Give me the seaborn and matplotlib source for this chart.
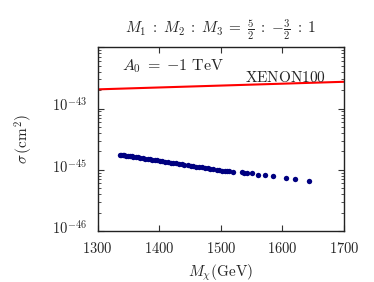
import matplotlib
matplotlib.use("Agg")
import matplotlib.pyplot as plt
import matplotlib.transforms as mtransforms
import seaborn as sns
import pandas as pd
import numpy as np

# data
mass = [1336, 1338, 1341, 1343, 1346, 1349, 1352, 1355, 1358, 1362, 1366, 1369,
        1373, 1377, 1381, 1385, 1389, 1393, 1397, 1401, 1405, 1410, 1414, 1419,
        1423, 1428, 1432, 1437, 1441, 1446, 1451, 1455, 1460, 1465, 1470, 1474,
        1479, 1483, 1488, 1493, 1497, 1502, 1506, 1510, 1514, 1519,
        1534, 1538, 1542, 1550, 1560, 1571, 1584, 1605, 1620, 1643]
sigma = [1.76e-45, 1.75e-45, 1.73e-45, 1.72e-45, 1.70e-45, 1.68e-45, 1.67e-45,
         1.65e-45, 1.63e-45, 1.61e-45, 1.59e-45, 1.57e-45, 1.54e-45, 1.52e-45,
         1.50e-45, 1.48e-45, 1.46e-45, 1.44e-45, 1.42e-45, 1.40e-45, 1.38e-45,
         1.36e-45, 1.34e-45, 1.31e-45, 1.29e-45, 1.27e-45, 1.25e-45, 1.23e-45,
         1.21e-45, 1.19e-45, 1.17e-45, 1.15e-45, 1.13e-45, 1.11e-45, 1.09e-45,
         1.07e-45, 1.05e-45, 1.04e-45, 1.02e-45, 1.00e-45, 0.99e-45, 0.97e-45,
         0.96e-45, 0.95e-45, 0.94e-45, 0.93e-45,
         9.1e-46, 9.0e-46, 8.9e-46, 8.7e-46, 8.3e-46, 8.1e-46, 7.8e-46, 7.4e-46,
         7.1e-46, 6.6e-46]
xenon_mass = [1300, 1700]
xenon_sigma = [2.06e-44, 2.74e-44]

ytick_vals = [1e-46, 1e-45, 1e-44, 1e-43]
ytick_labels = [r"$10^{-46}$", r"$10^{-45}$", r"$10^{-43}$", ""]
xtick_vals = [1300, 1400, 1500, 1600, 1700]

sns.set_style("ticks")
plt.rcParams["font.family"] = ["serif"]
plt.rcParams["font.serif"] = ["cmr10", "DejaVu Serif"]
plt.rcParams["mathtext.fontset"] = "cm"
plt.rcParams["axes.formatter.use_mathtext"] = True

fig = plt.figure(figsize=(3.74, 2.82), dpi=100)
ax = fig.add_axes([0.261, 0.181, 0.659, 0.651])

pts = pd.DataFrame({"m": mass, "s": sigma})
xen = pd.DataFrame({"m": xenon_mass, "s": xenon_sigma})

sns.lineplot(data=xen, x="m", y="s", color="red", linewidth=1.5, ax=ax)
sns.scatterplot(data=pts, x="m", y="s", color="#000080", s=15,
                edgecolor="#000080", linewidth=0, ax=ax)

ax.set_yscale("log")
ax.set_xlim(1300, 1700)
ax.set_ylim(1e-46, 1e-43)
ax.set_xticks(xtick_vals)
ax.set_xticklabels([f"${v}$" for v in xtick_vals])
ax.set_yticks(ytick_vals)
ax.set_yticklabels(ytick_labels)
ax.tick_params(which="both", direction="in", top=True, right=True,
               labelsize=10.5, color="#333333")
ax.tick_params(which="major", length=4, width=0.8)
ax.tick_params(which="minor", length=2.5, width=0.6)
ax.tick_params(axis="y", pad=8)
ax.tick_params(axis="x", pad=7)
for sp in ax.spines.values():
    sp.set_linewidth(1.0)
    sp.set_color("#222222")

# shift y tick labels slightly upward as in the reference
offset = mtransforms.ScaledTranslation(0, 3.5 / 72, fig.dpi_scale_trans)
for lab in ax.get_yticklabels():
    lab.set_transform(lab.get_transform() + offset)

ax.set_xlabel(r"$M_\chi(\mathrm{GeV})$", fontsize=11, labelpad=5)
ax.set_ylabel(r"$\sigma\,(\mathrm{cm}^2)$", fontsize=11, labelpad=12)
ax.set_title(r"$M_1\;:\;M_2\;:\;M_3\;=\;\frac{5}{2}\;:\;{-\frac{3}{2}}\;:\;1$",
             fontsize=11, pad=10)

ax.text(0.10, 0.90, r"$A_0\;=\;{-1}\ \mathrm{TeV}$", transform=ax.transAxes,
        fontsize=11.5, ha="left", va="center")
ax.text(0.60, 0.835, r"$\mathrm{XENON100}$", transform=ax.transAxes,
        fontsize=11, ha="left", va="center")

fig.savefig("out.png", dpi=100)
